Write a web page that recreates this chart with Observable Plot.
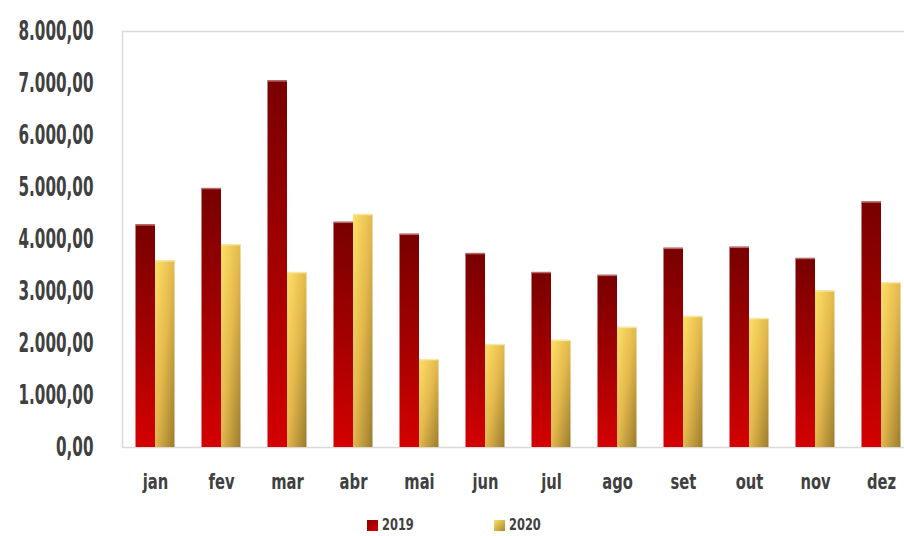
<!DOCTYPE html>
<html>
<head>
<meta charset="utf-8">
<script src="https://cdn.jsdelivr.net/npm/d3@7"></script>
<script src="https://cdn.jsdelivr.net/npm/@observablehq/plot@0.6"></script>
<style>
  html, body { margin: 0; padding: 0; background: #fff; overflow: hidden; width: 904px; height: 536px; }
  #chart svg { display: block; overflow: visible; }
  #legend { position: relative; height: 31px; font-family: "DejaVu Sans Condensed", sans-serif; font-weight: bold; font-size: 16.5px; color: #404040; }
  .item { position: absolute; top: 12px; display: flex; align-items: center; }
  .sw { width: 11px; height: 11px; margin-right: 4px; }
  .lab { display: inline-block; transform: scaleX(0.77); transform-origin: left center; line-height: 1; }
</style>
</head>
<body>
<div id="chart"></div>
<div id="legend">
  <div class="item" style="left:367px"><div class="sw" style="background:linear-gradient(135deg,#8a0000,#d40000)"></div><span class="lab">2019</span></div>
  <div class="item" style="left:494px"><div class="sw" style="background:linear-gradient(135deg,#ffe066,#a88830)"></div><span class="lab">2020</span></div>
</div>
<script>
const months = ["jan","fev","mar","abr","mai","jun","jul","ago","set","out","nov","dez"];
const v2019 = [4280, 4980, 7050, 4330, 4100, 3730, 3365, 3310, 3830, 3850, 3635, 4720];
const v2020 = [3590, 3900, 3365, 4480, 1690, 1980, 2060, 2310, 2520, 2480, 3010, 3170];
const yTicks = [0, 1000, 2000, 3000, 4000, 5000, 6000, 7000, 8000];

const locale = d3.formatLocale({decimal: ",", thousands: ".", grouping: [3], currency: ["R$", ""]});
const fmt = locale.format(",.2f");

const d19 = months.map((m, i) => ({month: m, value: v2019[i]}));
const d20 = months.map((m, i) => ({month: m, value: v2020[i]}));

const font = "'DejaVu Sans Condensed', sans-serif";
const half = 19.5;

const plot = Plot.plot({
  width: 904,
  height: 505,
  marginLeft: 122,
  marginRight: -10,
  marginTop: 31,
  marginBottom: 58,
  style: {fontFamily: font, color: "#404040", background: "white"},
  x: {domain: months, padding: 0, label: null},
  y: {domain: [0, 8000], label: null},
  marks: [
    Plot.frame({stroke: "#d9d9d9", strokeWidth: 1.5}),
    Plot.barY(d19, {x: "month", y: "value", fill: "url(#g2019)", insetLeft: 33 - half, insetRight: 33}),
    Plot.barY(d20, {x: "month", y: "value", fill: "url(#g2020)", insetLeft: 33, insetRight: 33 - half}),
    Plot.tickY(d19, {x: "month", y: "value", stroke: "#b86a6a", strokeWidth: 1.5, insetLeft: 33 - half, insetRight: 33}),
    Plot.tickY(d20, {x: "month", y: "value", stroke: "#f6e7a6", strokeWidth: 1.5, insetLeft: 33, insetRight: 33 - half}),
    Plot.axisY({ticks: yTicks, tickFormat: fmt, tickSize: 0, tickPadding: 29, fontSize: 26, fontWeight: "bold", label: null}),
    Plot.axisX({tickSize: 0, tickPadding: 27, fontSize: 21, fontWeight: "bold", label: null})
  ]
});

const svg = d3.select(plot);
const defs = svg.insert("defs", ":first-child");
const g1 = defs.append("linearGradient").attr("id", "g2019").attr("x1", 0).attr("y1", 0).attr("x2", 0).attr("y2", 1);
g1.append("stop").attr("offset", "0%").attr("stop-color", "#780000");
g1.append("stop").attr("offset", "55%").attr("stop-color", "#a80000");
g1.append("stop").attr("offset", "100%").attr("stop-color", "#d40000");
const g2 = defs.append("linearGradient").attr("id", "g2020").attr("x1", 0).attr("y1", 0).attr("x2", 1).attr("y2", 1);
g2.append("stop").attr("offset", "0%").attr("stop-color", "#ffe066");
g2.append("stop").attr("offset", "50%").attr("stop-color", "#e2b84c");
g2.append("stop").attr("offset", "100%").attr("stop-color", "#9c7c2c");

document.getElementById("chart").appendChild(plot);

function squeeze(sel, k) {
  svg.selectAll(sel).each(function () {
    const len = this.getComputedTextLength();
    this.setAttribute("textLength", (len * k).toFixed(1));
    this.setAttribute("lengthAdjust", "spacingAndGlyphs");
  });
}
squeeze('g[aria-label="y-axis tick label"] text', 0.65);
squeeze('g[aria-label="x-axis tick label"] text', 0.78);
</script>
</body>
</html>
